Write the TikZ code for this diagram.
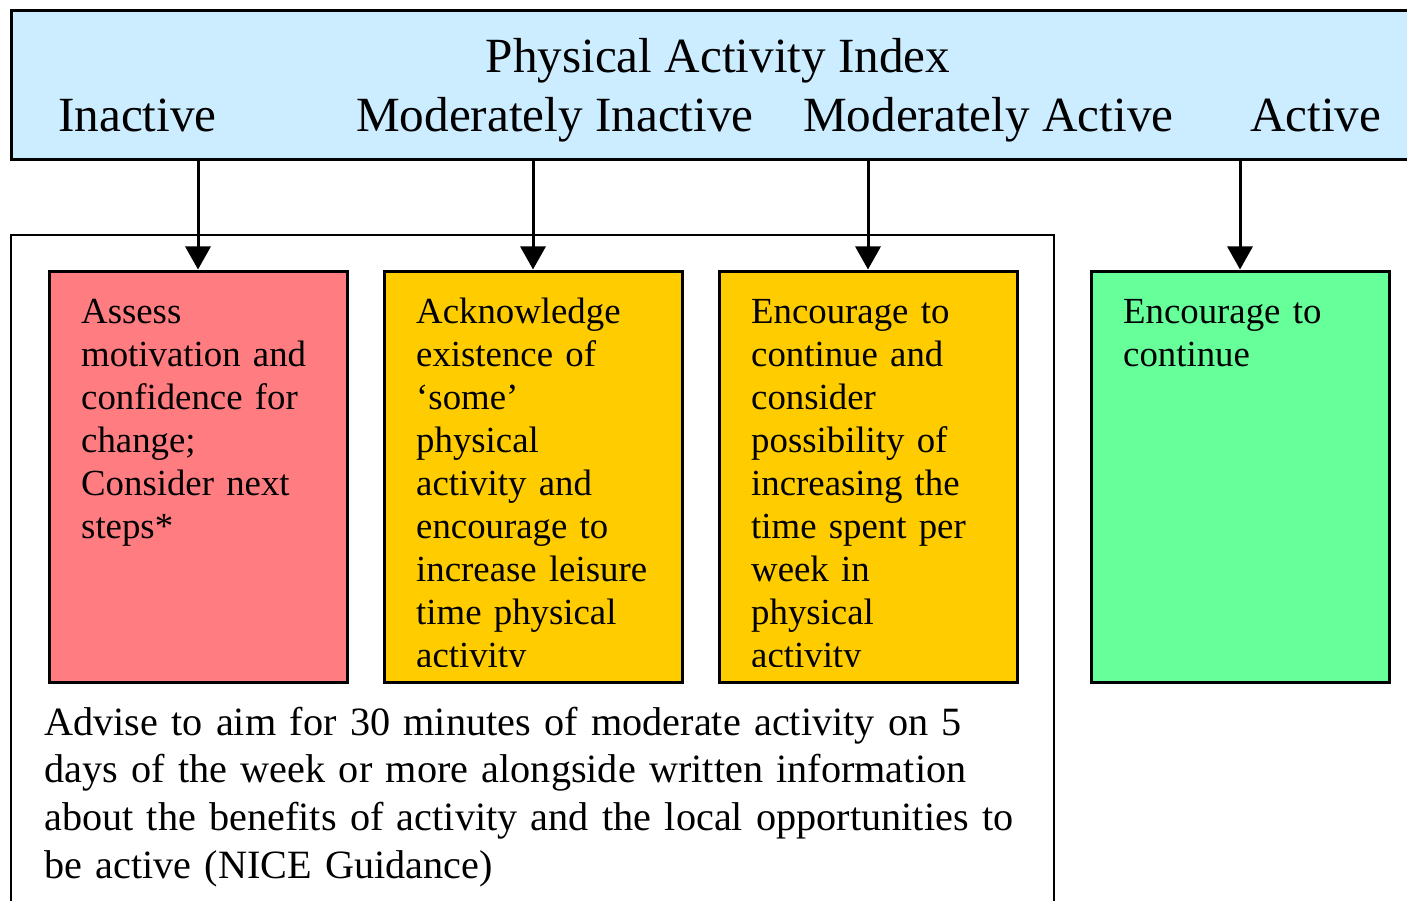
\documentclass[tikz,border=0pt]{standalone}
\usepackage{fontspec}
\setmainfont{Liberation Serif}
\usetikzlibrary{arrows.meta}
\definecolor{hdrblue}{HTML}{CCECFF}
\definecolor{boxred}{HTML}{FF7C80}
\definecolor{boxorange}{HTML}{FFCC00}
\definecolor{boxgreen}{HTML}{66FF99}
\tikzset{
  hdr/.style={draw=black, line width=3pt, fill=hdrblue, rectangle, inner sep=0pt, minimum width=1409pt, minimum height=149pt},
  panel/.style={draw=black, line width=2.5pt, rectangle, inner sep=0pt, minimum width=1043pt, minimum height=695pt},
  actbox/.style={draw=black, line width=3pt, rectangle, inner sep=0pt, minimum width=298pt, minimum height=411pt},
  boxtext/.style={anchor=base west, inner sep=0pt, text width=300pt, align=left, font=\fontsize{36.8}{43}\selectfont},
  lvl/.style={anchor=base west, inner sep=0pt, font=\fontsize{49.2}{56}\selectfont},
  arr/.style={line width=3pt, -{Triangle[width=25pt,length=23pt]}},
}
\begin{document}
\begin{tikzpicture}[x=1pt,y=-1pt]
\useasboundingbox (0,0) rectangle (1407,901);
\node[hdr] (header) at (715.5,85.5) {};
\node[anchor=base, inner sep=0pt, font=\fontsize{49.2}{56}\selectfont] (title) at (718,73) {Physical Activity Index};
\node[lvl] (l1) at (58,132) {Inactive};
\node[lvl] (l2) at (356,132) {Moderately Inactive};
\node[lvl] (l3) at (803,132) {Moderately Active};
\node[lvl] (l4) at (1250,132) {Active};

\node[panel] (panel) at (532.5,582.5) {};

\node[actbox, fill=boxred] (b1) at (198,476.5) {};
\node[actbox, fill=boxorange] (b2) at (533,476.5) {};
\node[actbox, fill=boxorange] (b3) at (868,476.5) {};
\node[actbox, fill=boxgreen] (b4) at (1240,476.5) {};

\draw[arr] (header.south -| b1.north) -- (b1.north);
\draw[arr] (header.south -| b2.north) -- (b2.north);
\draw[arr] (header.south -| b3.north) -- (b3.north);
\draw[arr] (header.south -| b4.north) -- (b4.north);

\begin{scope}
\clip (b1.north west) rectangle ([yshift=17pt]b1.south east);
\node[boxtext] (t1) at (81,323) {Assess\\motivation and\\confidence for\\change;\\Consider next\\steps*};
\end{scope}
\begin{scope}
\clip (b2.north west) rectangle ([yshift=17pt]b2.south east);
\node[boxtext] (t2) at (416,323) {Acknowledge\\existence of\\‘some’\\physical\\activity and\\encourage to\\increase leisure\\time physical\\activity};
\end{scope}
\begin{scope}
\clip (b3.north west) rectangle ([yshift=17pt]b3.south east);
\node[boxtext] (t3) at (751,323) {Encourage to\\continue and\\consider\\possibility of\\increasing the\\time spent per\\week in\\physical\\activity};
\end{scope}
\node[boxtext] (t4) at (1123,323) {Encourage to\\continue};

\node[anchor=base west, inner sep=0pt, text width=1000pt, align=left, font=\fontsize{40.2}{47.7}\selectfont] (advice) at (44,735) {Advise to aim for 30 minutes of moderate activity on 5\\days of the week or more alongside written information\\about the benefits of activity and the local opportunities to\\be active (NICE Guidance)};
\end{tikzpicture}
\end{document}
